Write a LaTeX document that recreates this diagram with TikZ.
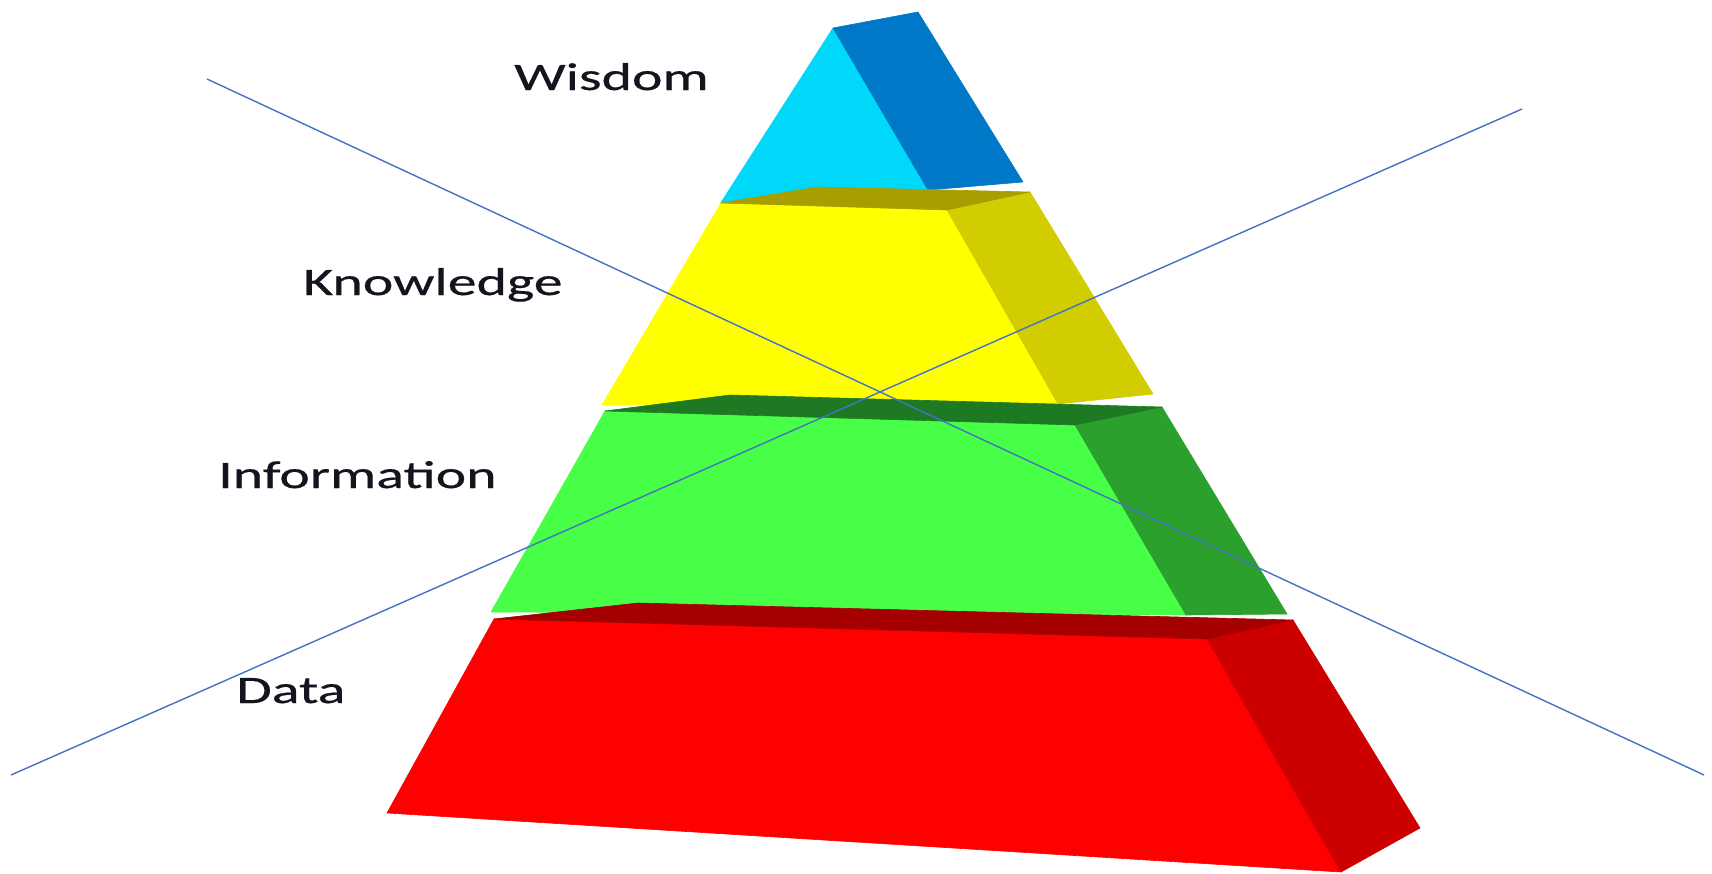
\documentclass[tikz,border=0pt]{standalone}
\usepackage{fontspec}
\setmainfont{Carlito}[FakeStretch=1.49,FakeBold=0.5]
\definecolor{wisfront}{RGB}{0,216,250}
\definecolor{wisside}{RGB}{0,120,200}
\definecolor{knowfront}{RGB}{255,255,0}
\definecolor{knowside}{RGB}{210,205,0}
\definecolor{knowtop}{RGB}{168,158,0}
\definecolor{infofront}{RGB}{72,255,72}
\definecolor{infoside}{RGB}{44,160,44}
\definecolor{infotop}{RGB}{30,122,34}
\definecolor{datafront}{RGB}{255,0,0}
\definecolor{dataside}{RGB}{205,0,0}
\definecolor{datatop}{RGB}{165,0,0}
\definecolor{crossblue}{RGB}{68,114,196}
\definecolor{labelink}{RGB}{20,20,30}
\begin{document}
\begin{tikzpicture}[x=1bp,y=-1bp,
  facet/.style={fill=#1,draw=#1,line width=0.6bp,line join=round},
  lbl/.style={anchor=base west,inner sep=0pt,text=labelink,
    font=\fontsize{39}{40}\selectfont},
  crossline/.style={draw=crossblue,line width=1.4bp}]
\useasboundingbox (0,0) rectangle (1712,873);
\fill[white] (0,0) rectangle (1712,873);

% Wisdom: top block
\path[facet=wisfront] (833,28) -- (928,190) -- (720,204) -- cycle;
\path[facet=wisside] (833,28) -- (918,12) -- (1023,182) -- (928,190) -- cycle;

% Knowledge block
\path[facet=knowfront] (721,203) -- (947,210) -- (1058,404) -- (602,405) -- cycle;
\path[facet=knowside] (947,210) -- (1030,192) -- (1153,394) -- (1058,404) -- cycle;
\path[facet=knowtop] (721,203) -- (817,187) -- (1030,192) -- (947,210) -- cycle;

% Information block
\path[facet=infofront] (605,411) -- (1075,425) -- (1186,615) -- (491,612) -- cycle;
\path[facet=infoside] (1075,425) -- (1162,407) -- (1287,614) -- (1186,615) -- cycle;
\path[facet=infotop] (605,411) -- (730,395) -- (1162,407) -- (1075,425) -- cycle;

% Data block
\path[facet=datafront] (494,619) -- (1207,639) -- (1341,872) -- (387,813) -- cycle;
\path[facet=dataside] (1207,639) -- (1293,620) -- (1420,828) -- (1341,872) -- cycle;
\path[facet=datatop] (494,619) -- (638,603) -- (1293,620) -- (1207,639) -- cycle;

% Labels
\node[lbl] (wisdom) at (514,90) {Wisdom};
\node[lbl] (knowledge) at (303,295) {Knowledge};
\node[lbl] (information) at (218,488) {Information};
\node[lbl] (data) at (236,703) {Data};

% Crossing lines
\coordinate (c1a) at (207,79);
\coordinate (c1b) at (1704,775);
\coordinate (c2a) at (11,775);
\coordinate (c2b) at (1522,109);
\draw[crossline] (c1a) -- (c1b);
\draw[crossline] (c2a) -- (c2b);
\end{tikzpicture}
\end{document}
